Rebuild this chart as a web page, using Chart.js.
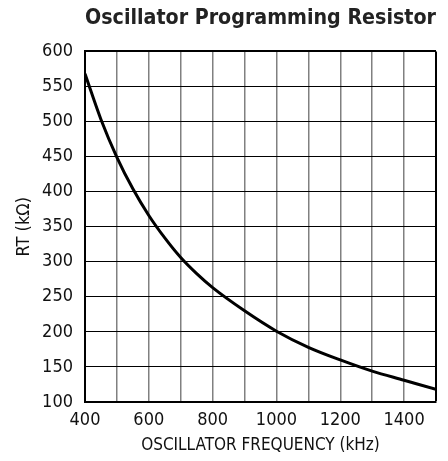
<!DOCTYPE html>
<html><head><meta charset="utf-8">
<script src="https://cdn.jsdelivr.net/npm/chart.js@4"></script>
<style>html,body{margin:0;padding:0;background:#fff}#wrap{width:448px;height:461px}</style>
</head><body><div id="wrap"><canvas id="c"></canvas></div>
<script>
const freqKHz = [400, 450, 500, 550, 600, 650, 700, 750, 800, 900, 1000, 1100, 1200, 1300, 1400, 1500];
const rtKOhm  = [568, 503, 449, 404, 366, 334, 306, 283, 263, 230, 201, 178, 160, 144, 131, 118];
const xTickLabels = [400, 600, 800, 1000, 1200, 1400];
const yTickLabels = [100, 150, 200, 250, 300, 350, 400, 450, 500, 550, 600];

const FONT = "'DejaVu Sans Condensed','Liberation Sans Narrow',sans-serif";
new Chart(document.getElementById('c'), {
  type: 'line',
  data: { datasets: [{
    data: freqKHz.map((f, i) => ({x: f, y: rtKOhm[i]})),
    borderColor: '#000', borderWidth: 3, pointRadius: 0,
    cubicInterpolationMode: 'monotone', fill: false
  }]},
  options: {
    responsive: true, maintainAspectRatio: false, animation: false,
    layout: { padding: { left: 10, right: 12, top: 2, bottom: 4 } },
    plugins: {
      legend: { display: false }, tooltip: { enabled: false },
      title: { display: true, text: 'Oscillator Programming Resistor', fullSize: false,
        color: '#222', font: { family: FONT, size: 22, weight: 'bold' }, padding: { top: 3, bottom: 20 } }
    },
    scales: {
      x: { type: 'linear', min: 400, max: 1500,
        afterFit: s => { s.height = 55; },
        ticks: { stepSize: 100, color: '#111', padding: 8, maxRotation: 0, autoSkip: false,
          font: { family: FONT, size: 18 },
          callback: v => xTickLabels.includes(v) ? String(v) : '' },
        grid: { drawTicks: false, color: c => c.tick && c.tick.value === 1500 ? '#000' : '#808080',
          lineWidth: c => c.tick && c.tick.value === 1500 ? 2 : 1.5 },
        border: { color: '#000', width: 2 },
        title: { display: true, text: 'OSCILLATOR FREQUENCY (kHz)', color: '#111',
          font: { family: FONT, size: 17 }, padding: { top: 3, bottom: 1 } } },
      y: { min: 100, max: 600,
        afterFit: s => { s.width = 75; },
        ticks: { stepSize: 50, color: '#111', padding: 12, autoSkip: false,
          font: { family: FONT, size: 18 },
          callback: v => yTickLabels.includes(v) ? String(v) : '' },
        grid: { drawTicks: false, color: '#000', lineWidth: c => c.tick && c.tick.value === 600 ? 2 : 1 },
        border: { color: '#000', width: 2 },
        title: { display: true, text: 'RT (kΩ)', color: '#111',
          font: { family: FONT, size: 18 }, padding: { top: 4, bottom: 6 } } }
    }
  }
});
</script></body></html>
